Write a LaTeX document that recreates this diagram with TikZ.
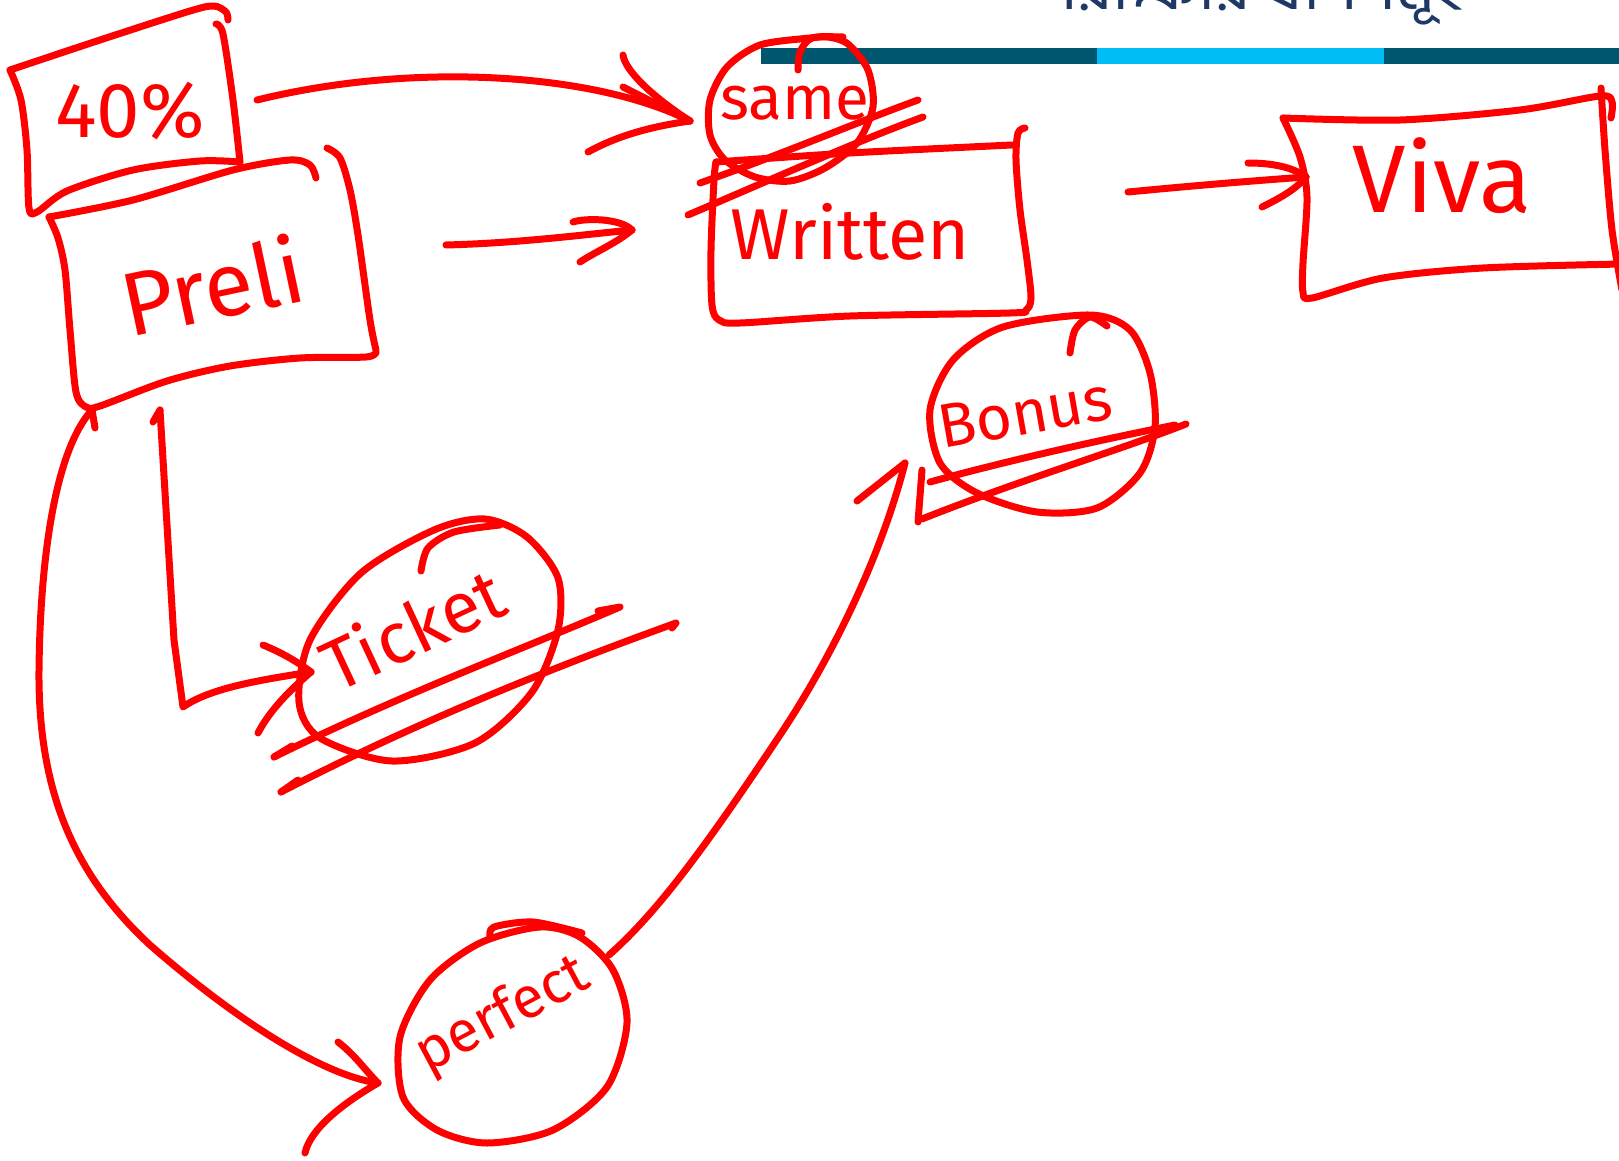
\documentclass[tikz,border=0pt]{standalone}
\usepackage{fontspec}
\setmainfont{Fira Sans}
\newfontfamily\bangla[Script=Bengali]{Hind Siliguri}
\definecolor{ink}{RGB}{255,0,0}
\definecolor{barteal}{RGB}{0,85,111}
\definecolor{barcyan}{RGB}{0,190,245}
\definecolor{titleblue}{RGB}{31,56,100}

\begin{document}
\begin{tikzpicture}[x=1pt,y=-1pt,
  pen/.style={draw=ink,line width=7pt,line cap=round,line join=round},
  word/.style={text=ink,inner sep=0pt,font=\fontsize{#1}{#1}\selectfont}]
\useasboundingbox (0,0) rectangle (1619,1161);

% slide header, cut by the page edge
\begin{scope}
\clip (0,0) rectangle (1619,1161);
\node[text=titleblue,anchor=base west,inner sep=0pt,
  font=\bangla\fontsize{66}{66}\selectfont] (title) at (1040,10) {পরীক্ষার ধাপসমূহ};
\end{scope}
\fill[barteal] (761,48) rectangle (1619,64);
\fill[barcyan] (1097,48) rectangle (1384,64);

% words
\node[word=78,anchor=base] (pct) at (130,138) {40\%};
\node[word=90,rotate=12] (preli) at (212,285) {Preli};
\node[word=62] (same) at (795,103) {same};
\node[word=72] (written) at (850,232) {Written};
\node[word=96,anchor=base] (viva) at (1442,212) {Viva};
\node[word=72,rotate=25] (ticket) at (412,628) {Ticket};
\node[word=62,rotate=10] (bonus) at (1025,413) {Bonus};
\node[word=58,rotate=28] (perfect) at (503,1016) {perfect};

% 40% box
\draw[pen] plot[smooth] coordinates {(10,70) (100,40) (190,11) (214,6) (226,12) (228,20)};
\draw[pen] plot[smooth] coordinates {(216,24) (223,34) (233,100) (240,162)};
\draw[pen] plot[smooth] coordinates {(240,162) (200,161) (133,170) (67,191) (37,212) (29,208) (27,150) (21,100) (10,70)};

% Preli box
\draw[pen] plot[smooth] coordinates {(49,217) (133,200) (233,170) (290,160) (310,165) (316,178)};
\draw[pen] plot[smooth] coordinates {(327,148) (340,158) (350,190) (358,235) (370,320) (376,350)};
\draw[pen] plot[smooth] coordinates {(376,352) (366,357) (300,358) (230,366) (167,381) (100,406) (86,407) (76,392) (70,330) (65,270) (58,238) (49,217)};

% same, struck out
\draw[pen] plot[smooth] coordinates {(843,37) (812,38) (800,52) (798,70)};
\draw[pen] plot[smooth cycle] coordinates {(810,38) (760,45) (727,67) (710,100) (710,135) (725,160) (755,177) (790,181) (825,168) (857,143) (873,107) (868,70) (848,44) (828,37)};
\draw[pen] (700,183) .. controls (780,155) and (850,125) .. (918,100);
\draw[pen] (688,215) .. controls (770,180) and (860,140) .. (923,117);

% Written box
\draw[pen] plot[smooth] coordinates {(716,162) (850,153) (1012,145)};
\draw[pen] plot[smooth] coordinates {(1025,128) (1018,133) (1016,160) (1020,210) (1027,260) (1031,298) (1026,310) (1010,313) (850,316) (740,323) (719,320) (712,305) (711,250) (714,180) (716,162)};

% Viva box
\draw[pen] plot[smooth] coordinates {(1283,118) (1400,120) (1520,110) (1600,96) (1612,102) (1611,118)};
\draw[pen] plot[smooth] coordinates {(1601,88) (1605,150) (1612,230) (1622,290)};
\draw[pen] plot[smooth] coordinates {(1622,264) (1483,268) (1383,278) (1312,298) (1303,292) (1303,263) (1307,197) (1300,157) (1283,118)};

% Ticket, struck out
\draw[pen] plot[smooth] coordinates {(421,571) (428,548) (454,532) (500,525)};
\draw[pen] plot[smooth cycle] coordinates {(485,519) (434,530) (361,573) (310,640) (299,702) (320,738) (392,761) (475,743) (532,692) (558,630) (558,578) (527,537)};
\draw[pen] (274,757) .. controls (400,695) and (520,650) .. (620,607) -- (598,611);
\draw[pen] (274,757) -- (292,746);
\draw[pen] (281,792) .. controls (420,720) and (560,665) .. (676,623) -- (672,628);
\draw[pen] (281,792) -- (298,780);

% Bonus, struck out
\draw[pen] plot[smooth] coordinates {(1107,326) (1090,317) (1075,330) (1070,353)};
\draw[pen] plot[smooth cycle] coordinates {(1090,315) (1003,327) (953,360) (930,410) (940,463) (977,493) (1037,512) (1097,508) (1140,473) (1155,427) (1150,373) (1130,330)};
\draw[pen] (930,482) .. controls (1010,460) and (1100,440) .. (1175,425);
\draw[pen] (922,519) .. controls (1020,480) and (1120,450) .. (1186,424);

% perfect
\draw[pen] plot[smooth] coordinates {(490,937) (494,927) (533,922) (582,933)};
\draw[pen] plot[smooth cycle] coordinates {(540,927) (480,943) (430,980) (400,1037) (403,1097) (437,1130) (487,1143) (553,1130) (607,1087) (627,1023) (613,970) (580,937)};

% arrows
\coordinate (pcttail) at (257,100);
\coordinate (sametip) at (690,121);
\draw[pen] (pcttail) .. controls (420,60) and (600,75) .. (sametip);
\draw[pen] (sametip) .. controls (650,95) and (625,70) .. +(-67,-66);
\draw[pen] (sametip) -- +(-67,-34);
\draw[pen] (sametip) .. controls (640,128) and (610,140) .. +(-102,31);

\coordinate (prelitail) at (446,245);
\coordinate (writtentip) at (632,230);
\draw[pen] (prelitail) .. controls (520,243) and (580,235) .. (writtentip);
\draw[pen] (writtentip) .. controls (620,218) and (585,218) .. +(-59,-8);
\draw[pen] (writtentip) .. controls (615,244) and (595,252) .. +(-52,32);

\coordinate (writtentail) at (1128,192);
\coordinate (vivatip) at (1306,177);
\draw[pen] (writtentail) .. controls (1190,186) and (1250,181) .. (vivatip);
\draw[pen] (vivatip) .. controls (1290,165) and (1265,163) .. +(-58,-14);
\draw[pen] (vivatip) .. controls (1295,190) and (1280,198) .. +(-44,30);

\coordinate (prelifoot) at (160,410);
\coordinate (tickettip) at (311,672);
\draw[pen] (prelifoot) -- (153,422);
\draw[pen] (prelifoot) -- (174,640) -- (183,707) .. controls (210,688) and (260,680) .. (tickettip);
\draw[pen] (tickettip) .. controls (295,660) and (280,652) .. +(-48,-27);
\draw[pen] (tickettip) .. controls (290,690) and (270,710) .. +(-53,61);

\coordinate (prelicorner) at (92,410);
\coordinate (perfecttip) at (378,1083);
\draw[pen] (prelicorner) -- (95,428);
\draw[pen] (prelicorner) .. controls (55,450) and (40,560) .. (39,671)
  .. controls (38,800) and (80,880) .. (150,945)
  .. controls (230,1015) and (320,1075) .. (perfecttip);
\draw[pen] (perfecttip) .. controls (365,1070) and (355,1055) .. +(-40,-41);
\draw[pen] (perfecttip) .. controls (340,1105) and (310,1130) .. +(-73,70);

\coordinate (perfectout) at (609,955);
\coordinate (bonustip) at (905,463);
\draw[pen] (perfectout) .. controls (660,910) and (710,840) .. (780,735)
  .. controls (830,660) and (880,560) .. (bonustip);
\draw[pen] (bonustip) -- +(-48,38);
\draw[pen] (bonustip) ++(17,7) -- +(-4,52);
\end{tikzpicture}
\end{document}
